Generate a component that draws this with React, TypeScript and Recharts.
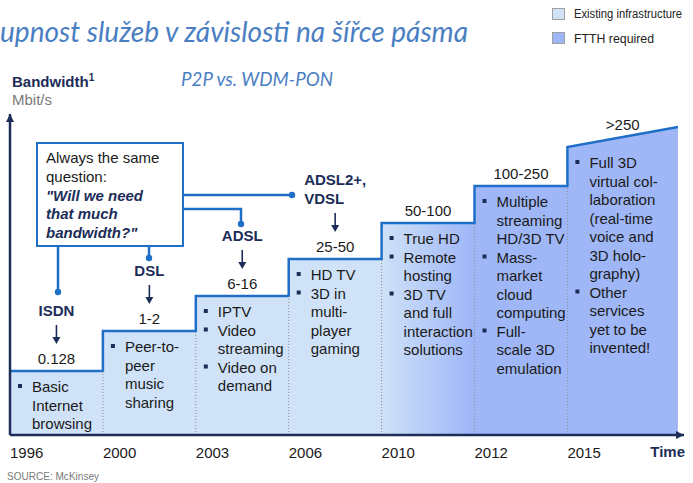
import React from "react";
import {
  ComposedChart,
  Area,
  Scatter,
  XAxis,
  YAxis,
  ReferenceLine,
  ReferenceDot,
} from "recharts";

const YEARS = ["1996", "2000", "2003", "2006", "2010", "2012", "2015"];
// height of each step as drawn (the picture is not to scale with Mbit/s)
const STEP_HEIGHTS = [64, 104, 139, 176, 212, 249, 288];
const LAST_STEP_END_HEIGHT = 308;
const BANDWIDTH = ["0.128", "1-2", "6-16", "25-50", "50-100", "100-250", ">250"];
const TECHNOLOGIES = [["ISDN"], ["DSL"], ["ADSL"], ["ADSL2+,", "VDSL"], [], [], []];
const SERVICES = [
  [["Basic", "Internet", "browsing"]],
  [["Peer-to-", "peer", "music", "sharing"]],
  [["IPTV"], ["Video", "streaming"], ["Video on", "demand"]],
  [["HD TV"], ["3D in", "multi-", "player", "gaming"]],
  [["True HD"], ["Remote", "hosting"], ["3D TV", "and full", "interaction", "solutions"]],
  [
    ["Multiple", "streaming", "HD/3D TV"],
    ["Mass-", "market", "cloud", "computing"],
    ["Full-", "scale 3D", "emulation"],
  ],
  [
    ["Full 3D", "virtual col-", "laboration", "(real-time", "voice and", "3D holo-", "graphy)"],
    ["Other", "services", "yet to be", "invented!"],
  ],
];
const QUESTION = ["Always the same", "question:"];
const QUESTION_ITALIC = ["\"Will we need", "that much", "bandwidth?\""];
const LEGEND = [
  { label: "Existing infrastructure", color: "#cfe2f8" },
  { label: "FTTH required", color: "#9fb7f7" },
];

const LAST_STEP_END = 7.19;
const X_MAX = 7.255;
const Y_MAX = 321;

const NAVY = "#1c2d58";
const STEP_BLUE = "#1f6fc8";
const TEXT = "#1a1a1a";
const FONT = "'Liberation Sans', Arial, sans-serif";

const last = STEP_HEIGHTS.length - 1;

const stepPoints = STEP_HEIGHTS.flatMap((h, i) => [
  { x: i, y: h },
  { x: i < last ? i + 1 : LAST_STEP_END, y: i < last ? h : LAST_STEP_END_HEIGHT },
]);

const servicePoints = STEP_HEIGHTS.map((h, i) => ({ x: i, y: h, items: SERVICES[i] }));

const bandPoints = STEP_HEIGHTS.map((h, i) => ({
  x: i < last ? i + 0.5 : (i + LAST_STEP_END) / 2,
  y: i < last ? h : (h + LAST_STEP_END_HEIGHT) / 2,
  band: BANDWIDTH[i],
  tech: TECHNOLOGIES[i],
}));

function ServicesShape(props: any) {
  const { cx, cy, payload } = props;
  let row = 0;
  return (
    <g>
      {payload.items.map((item: string[], k: number) =>
        item.map((line, j) => {
          const y = cy + 21 + row++ * 18.5;
          return (
            <g key={`${k}-${j}`}>
              {j === 0 && <rect x={cx + 8} y={y - 8} width={4} height={4} fill={NAVY} />}
              <text x={cx + 22} y={y} fontSize={15} fontFamily={FONT} fill={TEXT}>
                {line}
              </text>
            </g>
          );
        })
      )}
    </g>
  );
}

function BandShape(props: any) {
  const { cx, cy, payload } = props;
  const base = cy - 7;
  const tech: string[] = payload.tech;
  return (
    <g>
      <text x={cx} y={base} textAnchor="middle" fontSize={15} fontFamily={FONT} fill={TEXT}>
        {payload.band}
      </text>
      {tech.length > 0 && (
        <g>
          <line x1={cx} x2={cx} y1={base - 39} y2={base - 25} stroke={NAVY} strokeWidth={1.6} />
          <polygon
            points={`${cx - 4},${base - 27} ${cx + 4},${base - 27} ${cx},${base - 20}`}
            fill={NAVY}
          />
          {tech.length === 1 ? (
            <text x={cx} y={base - 48} textAnchor="middle" fontSize={15} fontWeight="bold" fontFamily={FONT} fill={NAVY}>
              {tech[0]}
            </text>
          ) : (
            tech.map((t, k) => (
              <text key={k} x={cx - 31} y={base - 67 + k * 19} fontSize={15} fontWeight="bold" fontFamily={FONT} fill={NAVY}>
                {t}
              </text>
            ))
          )}
        </g>
      )}
    </g>
  );
}

function YearTick(props: any) {
  const { x, y, payload } = props;
  return (
    <text x={x} y={y + 23} fontSize={15} fontFamily={FONT} fill={TEXT}>
      {YEARS[payload.value]}
    </text>
  );
}

function XArrow(props: any) {
  const { cx, cy } = props;
  return (
    <g>
      <polygon points={`${cx},${cy} ${cx - 8},${cy - 4} ${cx - 8},${cy + 4}`} fill={NAVY} />
      <text x={cx + 1} y={cy + 22} textAnchor="end" fontSize={15} fontWeight="bold" fontFamily={FONT} fill={NAVY}>
        Time
      </text>
    </g>
  );
}

function YArrow(props: any) {
  const { cx, cy } = props;
  return <polygon points={`${cx},${cy} ${cx - 4},${cy + 8} ${cx + 4},${cy + 8}`} fill={NAVY} />;
}

export default function App() {
  return (
    <div style={{ position: "absolute", left: 0, top: 0, width: 693, height: 483, background: "#fff" }}>
      <ComposedChart width={693} height={483} margin={{ top: 114, right: 9, bottom: 0, left: 10 }}>
        <defs>
          <linearGradient id="stepFill" x1="0" y1="0" x2="1" y2="0">
            <stop offset="0.557" stopColor={LEGEND[0].color} />
            <stop offset="0.69" stopColor={LEGEND[1].color} />
          </linearGradient>
        </defs>
        <XAxis
          type="number"
          dataKey="x"
          domain={[0, X_MAX]}
          ticks={[0, 1, 2, 3, 4, 5, 6]}
          tick={<YearTick />}
          tickLine={false}
          tickSize={0}
          tickMargin={0}
          height={48}
          allowDataOverflow
          axisLine={{ stroke: NAVY, strokeWidth: 2.5 }}
        />
        <YAxis type="number" domain={[0, Y_MAX]} width={0} hide allowDataOverflow />
        <Area
          data={stepPoints}
          dataKey="y"
          type="linear"
          stroke={STEP_BLUE}
          strokeWidth={2.5}
          fill="url(#stepFill)"
          fillOpacity={1}
          isAnimationActive={false}
        />
        {STEP_HEIGHTS.slice(0, -1).map((h, i) => (
          <ReferenceLine
            key={i}
            segment={[
              { x: i + 1, y: 0 },
              { x: i + 1, y: h },
            ]}
            stroke="#8c8c8c"
            strokeDasharray="1 2"
            strokeWidth={1}
          />
        ))}
        <ReferenceLine x={0} stroke={NAVY} strokeWidth={2.5} />
        <Scatter data={servicePoints} dataKey="y" shape={ServicesShape} isAnimationActive={false} />
        <Scatter data={bandPoints} dataKey="y" shape={BandShape} isAnimationActive={false} />
        <ReferenceDot x={X_MAX} y={0} shape={XArrow} ifOverflow="visible" />
        <ReferenceDot x={0} y={Y_MAX} shape={YArrow} ifOverflow="visible" />
      </ComposedChart>

      <svg width={693} height={483} style={{ position: "absolute", left: 0, top: 0, pointerEvents: "none" }}>
        <text x={0} y={42} fontSize={28} fontStyle="italic" fontFamily="Lato, sans-serif" fill="#4a7ec2" textLength={468} lengthAdjust="spacingAndGlyphs">
          upnost služeb v závislosti na šířce pásma
        </text>
        <text x={181} y={86} fontSize={18.5} fontStyle="italic" fontFamily="Lato, sans-serif" fill="#4a7ec2" textLength={152} lengthAdjust="spacingAndGlyphs">
          P2P vs. WDM-PON
        </text>
        <text x={12} y={87} fontSize={15} fontWeight="bold" fontFamily={FONT} fill={NAVY}>
          Bandwidth
          <tspan fontSize={10} dy={-6}>1</tspan>
        </text>
        <text x={12} y={105} fontSize={15} fontFamily={FONT} fill="#7a7a7a">
          Mbit/s
        </text>

        {LEGEND.map((l, i) => (
          <g key={l.label}>
            <rect x={552.5} y={8.5 + i * 24} width={12} height={11} fill={l.color} stroke="#a0a0a0" strokeWidth={1} />
            <text x={574} y={18 + i * 24.5} fontSize={12} fontFamily={FONT} fill="#222" textLength={i === 0 ? 108 : 80} lengthAdjust="spacingAndGlyphs">
              {l.label}
            </text>
          </g>
        ))}

        <g stroke={STEP_BLUE} strokeWidth={2.5} fill="none">
          <path d="M58 246 V292" />
          <path d="M149 246 V258" />
          <path d="M183 209 H241 V224" />
          <path d="M183 195 H292" />
        </g>
        <g fill={STEP_BLUE}>
          <circle cx={58} cy={292} r={3.2} />
          <circle cx={149} cy={258} r={3.2} />
          <circle cx={241} cy={224} r={3.2} />
          <circle cx={292} cy={195} r={3.2} />
        </g>
        <rect x={37} y={143} width={146} height={103} fill="#fff" stroke={STEP_BLUE} strokeWidth={2} />
        {QUESTION.map((t, i) => (
          <text key={t} x={46} y={163 + i * 18.6} fontSize={15} fontFamily={FONT} fill={TEXT}>
            {t}
          </text>
        ))}
        {QUESTION_ITALIC.map((t, i) => (
          <text key={t} x={46} y={200.5 + i * 18.6} fontSize={15} fontStyle="italic" fontWeight="bold" fontFamily={FONT} fill={NAVY}>
            {t}
          </text>
        ))}

        <text x={7} y={480} fontSize={11} fontFamily={FONT} fill="#7a7a7a" textLength={92} lengthAdjust="spacingAndGlyphs">
          SOURCE: McKinsey
        </text>
      </svg>
    </div>
  );
}
